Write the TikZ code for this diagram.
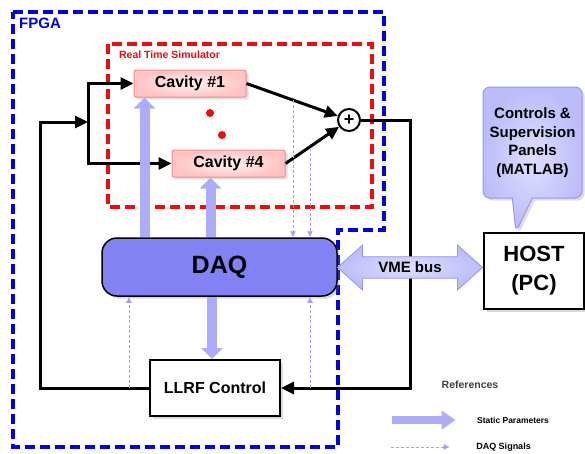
\documentclass[tikz,border=0pt]{standalone}
\usepackage{fontspec}
\setmainfont{Liberation Sans}
\usetikzlibrary{shapes,shapes.arrows,shapes.callouts,positioning,arrows,arrows.meta,calc,shadows}
\definecolor{fpgablue}{RGB}{0,0,235}
\definecolor{simred}{RGB}{245,10,10}
\definecolor{daqfill}{RGB}{130,130,245}
\definecolor{statcol}{RGB}{172,172,250}
\definecolor{sigcol}{RGB}{160,160,245}
\definecolor{cavfill}{RGB}{255,195,195}
\definecolor{cavline}{RGB}{240,140,140}
\definecolor{bubblein}{RGB}{222,222,255}
\definecolor{bubbleout}{RGB}{188,188,250}
\definecolor{bubbleline}{RGB}{150,150,240}
\newcommand{\bfsize}[1]{\fontsize{#1}{#1}\selectfont\bfseries}

\begin{document}
\begin{tikzpicture}[x=1pt,y=-1pt]

    \tikzstyle{conn}=[line width=3pt, -{Triangle[length=13pt,width=12pt]}]
    \tikzstyle{static}=[line width=10pt, color=statcol, -{Triangle[length=11pt,width=21pt]}]
    \tikzstyle{sig}=[line width=0.8pt, color=sigcol, dash pattern=on 3pt off 2pt, -{Latex[length=6pt,width=6pt]}]
    \tikzstyle{cav}=[draw=cavline, line width=1pt, rounded corners=2pt, inner color=red!5, outer color=cavfill, minimum width=112pt, minimum height=27pt, font=\bfsize{16}, drop shadow={opacity=0.25}]
    \tikzstyle{blk}=[draw, line width=2pt, fill=white, drop shadow={opacity=0.3}]
    \tikzstyle{fpga}=[draw=fpgablue, line width=3.5pt, dash pattern=on 10pt off 5pt]
    \tikzstyle{sim}=[draw=simred, line width=3.5pt, dash pattern=on 10pt off 5pt]

    \useasboundingbox (0,0) rectangle (585,453);

    % FPGA and simulator frames
    \draw[fpga] (13,12) -- (384,12) -- (384,230) -- (338,230) -- (338,447) -- (13,447) -- cycle;
    \node (fpgalbl) at (40,23)[text=fpgablue, font=\bfsize{15}]{FPGA};
    \draw[sim] (108,44) rectangle (372,207);
    \node (simlbl) at (169.5,55)[text=simred, font=\bfsize{10.5}]{Real Time Simulator};

    \begin{scope}
      \node (cav1) at (190,83.5)[cav]{Cavity \#1};
      \node (cav4) at (228.5,163.5)[cav, minimum width=113pt]{Cavity \#4};
      \fill[simred] (210,113) circle (4pt);
      \fill[simred] (222,135) circle (4pt);
      \node (sum) at (349,120)[circle, draw, line width=2pt, fill=white, minimum size=22pt, inner sep=0pt, font=\bfsize{18}]{+};
    \end{scope}

    \node (daq) at (219.5,267)[draw, line width=1.5pt, rounded corners=15pt, fill=daqfill, minimum width=235pt, minimum height=58pt, font=\bfsize{25}, drop shadow={opacity=0.3}]{DAQ};
    \node (llrf) at (215,388)[blk, minimum width=130pt, minimum height=56pt, font=\bfsize{16}]{LLRF Control};
    \node (host) at (534,271)[blk, minimum width=100pt, minimum height=76pt, align=center, font=\fontsize{22}{29}\selectfont\bfseries]{HOST\\(PC)};
    \node (ctrl) at (532.5,142.5)[rectangle callout, draw=bubbleline, line width=1pt, rounded corners=7pt, inner color=bubblein, outer color=bubbleout, minimum width=99pt, minimum height=111pt, align=center, font=\fontsize{15}{18.5}\selectfont\bfseries, callout absolute pointer={([xshift=33pt]host.north west)}, callout pointer width=20pt, drop shadow={opacity=0.25}]{Controls \&\\Supervision\\Panels\\(MATLAB)};

    % feedback loop
    \coordinate (split) at (88,122);
    \coordinate (loopL) at (40,122);
    \coordinate (loopR) at (410,120);
    \draw[conn] (llrf.west) -| (loopL) -- (split);
    \draw[conn] (split) |- (cav1.west);
    \draw[conn] (split) |- (cav4.west);
    \draw[conn] (cav1.east) -- (sum);
    \draw[conn] (cav4.east) -- (sum);
    \draw[conn] (sum.east) -- (loopR) |- (llrf.east);

    % vme bus over the loop line
    \node (vme) at (410,267.5)[double arrow, draw=bubbleline, line width=0.8pt, inner color=bubblein, outer color=bubbleout, minimum height=145pt, minimum width=45pt, double arrow head extend=10pt, double arrow tip angle=84, font=\bfsize{15}]{VME bus};

    % static parameters
    \coordinate (st1) at ([xshift=11pt]cav1.south west);
    \coordinate (st4) at ([xshift=-18pt]cav4.south);
    \coordinate (st0) at ([xshift=-3pt]llrf.north);
    \draw[static] (daq.north -| st1) -- (st1);
    \draw[static] (daq.north -| st4) -- (st4);
    \draw[static] (daq.south -| st0) -- (st0);

    % daq signals
    \coordinate (sg1) at (293,100);
    \coordinate (sg2) at (310,148);
    \coordinate (sg3) at (129,388);
    \coordinate (sg4) at (310,388);
    \draw[sig] (sg1) -- (sg1 |- daq.north);
    \draw[sig] (sg2) -- (sg2 |- daq.north);
    \draw[sig] (sg3) -- (sg3 |- daq.south);
    \draw[sig] (sg4) -- (sg4 |- daq.south);

    % references
    \node (refs) at (470,385)[text=black!75, font=\bfsize{10.5}]{References};
    \node (lgstat) at (513,420)[font=\bfsize{8.5}]{Static Parameters};
    \node (lgsig) at (503.5,447)[font=\bfsize{9}]{DAQ Signals};
    \draw[static, line width=8pt, -{Triangle[length=14pt,width=18pt]}] ([xshift=-82pt]lgstat.west) -- ([xshift=-18pt]lgstat.west);
    \draw[sig] ([xshift=-82pt]lgsig.west) -- ([xshift=-23pt]lgsig.west);

\end{tikzpicture}
\end{document}
